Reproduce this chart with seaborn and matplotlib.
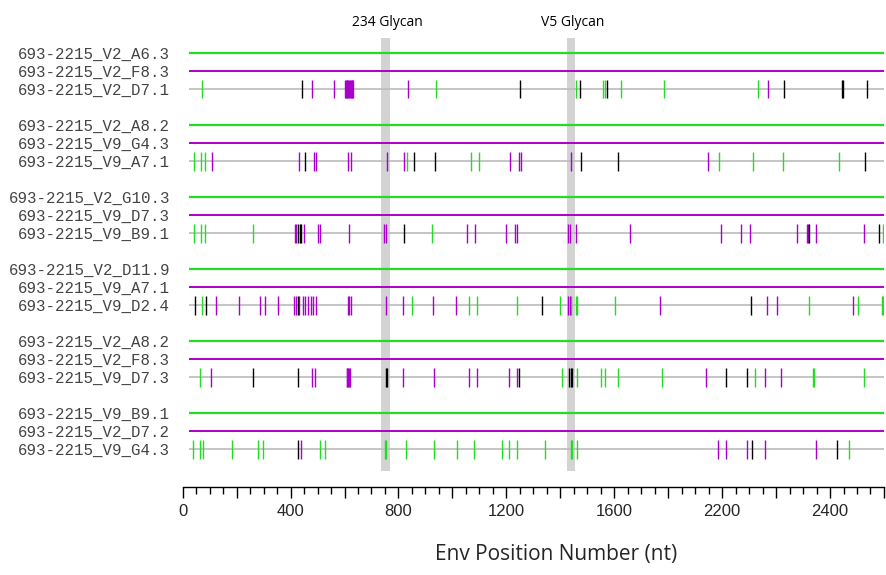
import numpy as np
import pandas as pd
import matplotlib
matplotlib.use("Agg")
import matplotlib.pyplot as plt
import seaborn as sns

# group layout: green reference, purple reference, highlighted sequence
green_refs = ["693-2215_V2_A6.3", "693-2215_V2_A8.2", "693-2215_V2_G10.3",
              "693-2215_V2_D11.9", "693-2215_V2_A8.2", "693-2215_V9_B9.1"]
purple_refs = ["693-2215_V2_F8.3", "693-2215_V9_G4.3", "693-2215_V9_D7.3",
               "693-2215_V9_A7.1", "693-2215_V2_F8.3", "693-2215_V2_D7.2"]
query_seqs = ["693-2215_V2_D7.1", "693-2215_V9_A7.1", "693-2215_V9_B9.1",
              "693-2215_V9_D2.4", "693-2215_V9_D7.3", "693-2215_V9_G4.3"]

# mismatch positions (nt), per highlighted sequence
d71_green = [73, 939, 1460, 1559, 1566, 1624, 1786, 2133]
d71_purple = [480, 561, 602, 605, 608, 611, 614, 617, 620, 623, 626, 629, 632, 836, 2171]
d71_black = [444, 1249, 1474, 1574, 2230, 2444, 2448, 2536]

a71_green = [42, 68, 82, 832, 1069, 1098, 1988, 2114, 2225, 2434]
a71_purple = [110, 431, 487, 495, 613, 625, 758, 822, 1214, 1248, 1254, 1441, 1947]
a71_black = [452, 857, 934, 1476, 1615, 2530]

b91_green = [42, 67, 82, 261, 923, 2597]
b91_purple = [415, 420, 450, 502, 508, 618, 746, 754, 1054, 1082, 1200, 1233, 1239,
              1430, 1437, 1457, 1659, 1995, 2071, 2102, 2277, 2314, 2318, 2347, 2527]
b91_black = [428, 434, 440, 822, 2323, 2580]

d24_green = [71, 851, 1060, 1090, 1239, 1400, 1441, 1457, 1463, 1601, 2321, 2505, 2591, 2598]
d24_purple = [123, 208, 287, 304, 354, 413, 420, 433, 446, 455, 465, 474, 483, 496, 613, 618,
              625, 754, 817, 928, 1013, 1430, 1436, 1770, 2168, 2204, 2487]
d24_black = [46, 88, 427, 1334, 2107]

d73_green = [64, 1405, 1463, 1550, 1564, 1614, 1777, 2123, 2338, 2342, 2526]
d73_purple = [105, 480, 492, 608, 611, 614, 618, 622, 817, 930, 1063, 1093, 1209, 1240,
              1942, 2160, 2220]
d73_black = [260, 428, 752, 756, 1246, 1434, 1438, 1442, 2016, 2092]

g43_green = [37, 63, 77, 184, 280, 297, 510, 526, 751, 755, 827, 930, 1016, 1080, 1183,
             1209, 1241, 1344, 1439, 1443, 1463, 2469]
g43_purple = [438, 1984, 2016, 2092, 2160, 2348]
g43_black = [428, 2110, 2427]

glycan_names = ["234 Glycan", "V5 Glycan"]
glycan_centers = [751, 1439]
glycan_widths = [35, 30]

tick_values = [0, 400, 800, 1200, 1600, 2000, 2400]
tick_labels = ["0", "400", "800", "1200", "1600", "2200", "2400"]

GREEN = "#22dd22"
PURPLE = "#aa00cc"
GREY = "#bbbbbb"


def main():
    sns.set_style("white")
    plt.rcParams["font.family"] = ["Open Sans", "DejaVu Sans"]

    marks = [
        (d71_green, d71_purple, d71_black),
        (a71_green, a71_purple, a71_black),
        (b91_green, b91_purple, b91_black),
        (d24_green, d24_purple, d24_black),
        (d73_green, d73_purple, d73_black),
        (g43_green, g43_purple, g43_black),
    ]
    rows = []
    for g, (gr, pu, bl) in enumerate(marks):
        for kind, vals in (("green", gr), ("purple", pu), ("black", bl)):
            for v in vals:
                rows.append({"pos": v, "row": 4 * g + 2, "kind": kind})
    df = pd.DataFrame(rows)

    fig = plt.figure(figsize=(8.86, 5.75), dpi=100)
    ax = fig.add_axes([0.2062, 0.1530, 0.7915, 0.847])

    for c, w in zip(glycan_centers, glycan_widths):
        ax.fill_betweenx([-0.83, 23.22], c - w / 2, c + w / 2, color="#d3d3d3", lw=0, zorder=0)

    n = len(query_seqs)
    g_rows = [4 * g for g in range(n)]
    ax.hlines(g_rows, 22, 2600, color=GREEN, lw=1.6, zorder=1)
    ax.hlines([r + 1 for r in g_rows], 22, 2600, color=PURPLE, lw=1.4, zorder=1)
    ax.hlines([r + 2 for r in g_rows], 22, 2600, color=GREY, lw=1.2, zorder=1)

    sns.scatterplot(data=df, x="pos", y="row", hue="kind",
                    palette={"green": GREEN, "purple": PURPLE, "black": "black"},
                    marker="|", s=187, linewidth=1.0, legend=False, ax=ax, zorder=3)

    for name, c in zip(glycan_names, glycan_centers):
        ax.text(c + 8, -1.67, name, ha="center", va="center", fontsize=10, color="black")

    ax.set_xlim(0, 2600)
    ax.set_ylim(24.11, -2.944)

    ytick_pos = []
    ytick_lab = []
    for g in range(n):
        ytick_pos += [4 * g, 4 * g + 1, 4 * g + 2]
        ytick_lab += [green_refs[g], purple_refs[g], query_seqs[g]]
    ax.set_yticks(ytick_pos, ytick_lab, fontfamily="Liberation Mono", fontsize=11.3, color="#444444")
    ax.tick_params(axis="y", length=0, pad=9)

    major = np.arange(0, 2601, 200)
    lab_map = dict(zip(tick_values, tick_labels))
    ax.set_xticks(major, [lab_map.get(int(v), "") for v in major],
                  fontfamily="Liberation Sans", fontsize=12)
    ax.set_xticks(np.arange(0, 2601, 50), minor=True)
    ax.tick_params(axis="x", which="major", length=8, width=1, color="black", pad=4, direction="out")
    ax.tick_params(axis="x", which="minor", length=5, width=1, color="black", direction="out")
    ax.xaxis.set_ticks_position("bottom")

    sns.despine(ax=ax, left=True)
    ax.spines["bottom"].set_color("black")
    ax.spines["bottom"].set_linewidth(1)

    ax.set_ylabel("")
    ax.set_xlabel("Env Position Number (nt)", fontsize=15)
    ax.xaxis.set_label_coords(0.532, -0.118)
    ax.xaxis.label.set_va("top")

    fig.savefig("out.png", dpi=100)
    plt.close(fig)


if __name__ == "__main__":
    main()
